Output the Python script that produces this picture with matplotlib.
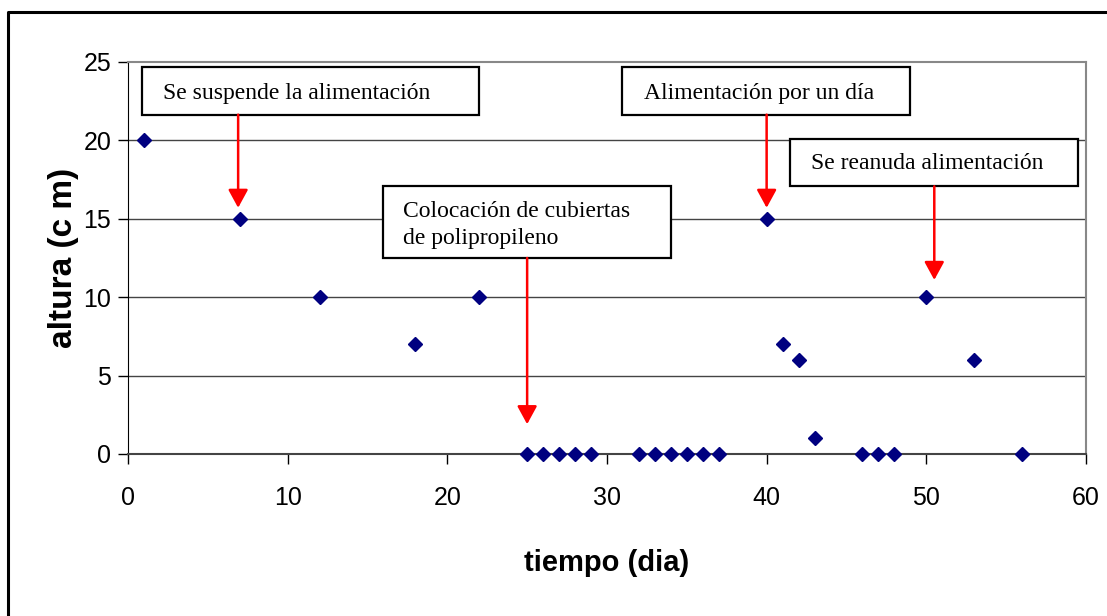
import matplotlib
matplotlib.use("Agg")
import matplotlib.pyplot as plt
from matplotlib.lines import Line2D
from matplotlib.patches import Rectangle

# Data
dias = [1, 7, 12, 18, 22, 25, 26, 27, 28, 29, 32, 33, 34, 35, 36, 37,
        40, 41, 42, 43, 46, 47, 48, 50, 53, 56]
altura = [20, 15, 10, 7, 10, 0, 0, 0, 0, 0, 0, 0, 0, 0, 0, 0,
          15, 7, 6, 1, 0, 0, 0, 10, 6, 0]

x_ticks = [0, 10, 20, 30, 40, 50, 60]
y_ticks = [0, 5, 10, 15, 20, 25]

notas = ["Se suspende la alimentación",
         "Colocación de cubiertas\nde polipropileno",
         "Alimentación por un día",
         "Se reanuda alimentación"]

# box (x0, y0, x1, y1) in data units, text anchor, arrow x, arrow tip y
cajas = [(0.9, 21.64, 22.0, 24.68), (15.96, 12.5, 34.0, 17.07),
         (30.94, 21.64, 48.97, 24.68), (41.46, 17.07, 59.48, 20.11)]
texto_pos = [(2.2, 23.0), (17.24, 14.6), (32.3, 23.0), (42.8, 18.5)]
flechas = [(6.9, 15.7), (25.0, 1.9), (40.0, 15.7), (50.5, 11.1)]

sans = ['Liberation Sans', 'DejaVu Sans']

fig = plt.figure(figsize=(11.07, 6.16), dpi=100)
ax = fig.add_axes([0.1156, 0.263, 0.981 - 0.1156, 0.8994 - 0.263])

# outer frame of the chart (only left and top edges are inside the picture)
fx = 8 / 1107
fy = 1 - 12 / 616
fig.lines.append(Line2D([fx, fx, 1.01], [-0.01, fy, fy], transform=fig.transFigure,
                        color='black', lw=2.2))

for y in y_ticks[1:-1]:
    ax.axhline(y, color='#444444', lw=1, zorder=1)

ax.plot(dias, altura, linestyle='none', marker='D', markersize=7.5,
        color='#000080', clip_on=False, zorder=5)

ax.set_xlim(0, 60)
ax.set_ylim(0, 25)
ax.set_xticks(x_ticks)
ax.set_yticks(y_ticks)
ax.tick_params(direction='out', length=7, width=1, labelsize=18, pad=5)
for lab in ax.get_xticklabels() + ax.get_yticklabels():
    lab.set_family(sans)
ax.xaxis.set_tick_params(pad=16)

ax.spines['top'].set_color('#888888')
ax.spines['right'].set_color('#888888')
ax.spines['top'].set_linewidth(1.5)
ax.spines['right'].set_linewidth(1.5)
ax.spines['left'].set_color('black')
ax.spines['bottom'].set_color('#444444')
ax.spines['bottom'].set_linewidth(1.5)

ax.set_xlabel('tiempo (dia)', fontsize=21, fontweight='bold', family=sans,
              labelpad=28)
ax.set_ylabel('altura (c m)', fontsize=24, fontweight='bold', family=sans,
              labelpad=3)

for nota, (x0, y0, x1, y1), (tx, ty), (ax_x, tip) in zip(notas, cajas, texto_pos, flechas):
    ax.add_patch(Rectangle((x0, y0), x1 - x0, y1 - y0, fill=True,
                           facecolor='white', edgecolor='black', lw=1.6,
                           zorder=6, clip_on=False))
    ax.text(tx, ty, nota, fontsize=17, family=['Liberation Serif', 'DejaVu Serif'],
            ha='left', va='center', zorder=7, linespacing=1.35)
    ax.annotate('', xy=(ax_x, tip), xytext=(ax_x, y0),
                arrowprops=dict(arrowstyle='-|>,head_length=0.55,head_width=0.3',
                                color='red', lw=1.8, mutation_scale=20,
                                shrinkA=0, shrinkB=0),
                zorder=6)

fig.savefig('out.png', dpi=100)
